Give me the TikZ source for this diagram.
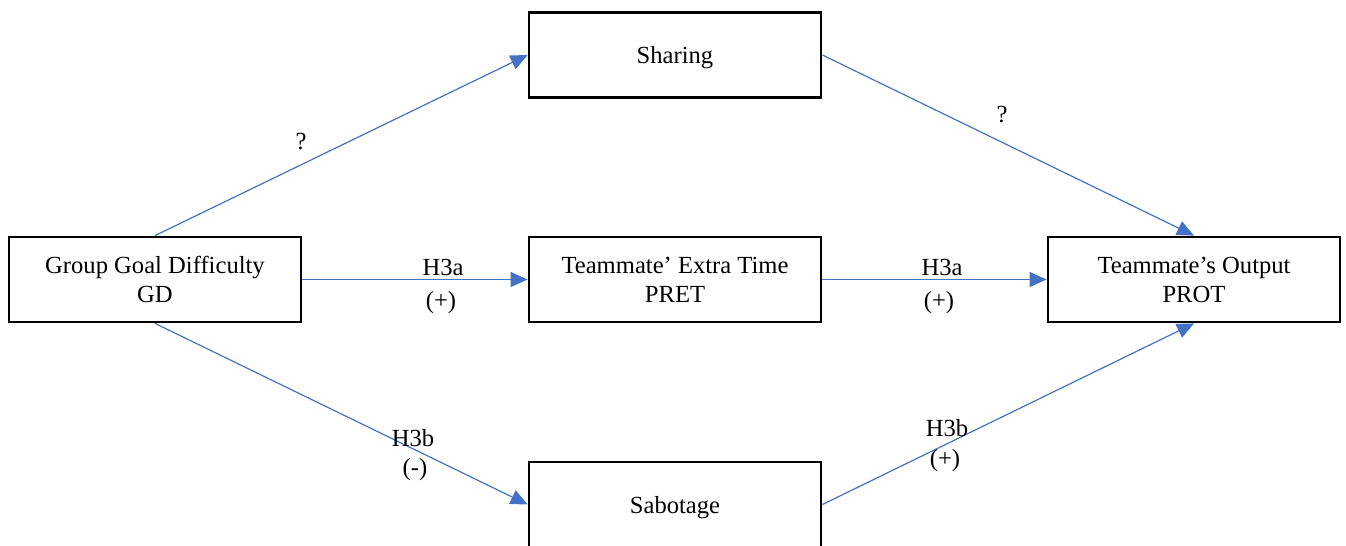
\documentclass[tikz,border=0pt]{standalone}
\usepackage{fontspec}
\setmainfont{Liberation Serif}
\usetikzlibrary{arrows.meta}
\usetikzlibrary{positioning}

\definecolor{linkblue}{HTML}{4472C4}

\begin{document}
\begin{tikzpicture}[
    x=0.5pt, y=-0.5pt,
    var/.style={
        rectangle,
        draw=black, fill=white, line width=1.4pt,
        minimum width=146pt, minimum height=42.5pt,
        align=center, inner sep=0pt,
        font=\fontsize{12.3}{14.5}\selectfont
    },
    hyp/.style={
        inner sep=0pt,
        font=\fontsize{12.3}{14.5}\selectfont
    },
    link/.style={
        draw=linkblue, line width=0.6pt,
        -{Triangle[length=8.5pt,width=7.5pt]}
    }
]
\useasboundingbox (0,0) rectangle (1346,546);
\clip (0,0) rectangle (1346,546);

\node[var] (gd)   at (155,279.5)  {Group Goal Difficulty\\GD};
\node[var, text depth=0pt] (shr) at (675,55) {Sharing};
\node[var] (pret) at (675,279.5)  {Teammate' Extra Time\\PRET};
\node[var, text depth=0pt] (sab) at (675,504.5) {Sabotage};
\node[var] (prot) at (1194,279.5) {Teammate's Output\\PROT};

\draw[link] (gd.north) -- (shr.west);
\draw[link] (shr.east) -- (prot.north);
\draw[link] (gd.east) -- (pret.west);
\draw[link] (pret.east) -- (prot.west);
\draw[link] (gd.south) -- (sab.west);
\draw[link] (sab.east) -- (prot.south);

\node[hyp] (q1) at (301,142) {?};
\node[hyp] (q2) at (1002,115) {?};

\node[hyp] (h1) at (443,267) {H3a};
\node[hyp] (s1) at (441,303) {(+)};
\node[hyp] (h2) at (942,267) {H3a};
\node[hyp] (s2) at (939,303) {(+)};

\node[hyp] (h3) at (413,438) {H3b};
\node[hyp] (s3) at (415,470) {(-)};
\node[hyp] (h4) at (947,428) {H3b};
\node[hyp] (s4) at (945,461) {(+)};
\end{tikzpicture}
\end{document}
